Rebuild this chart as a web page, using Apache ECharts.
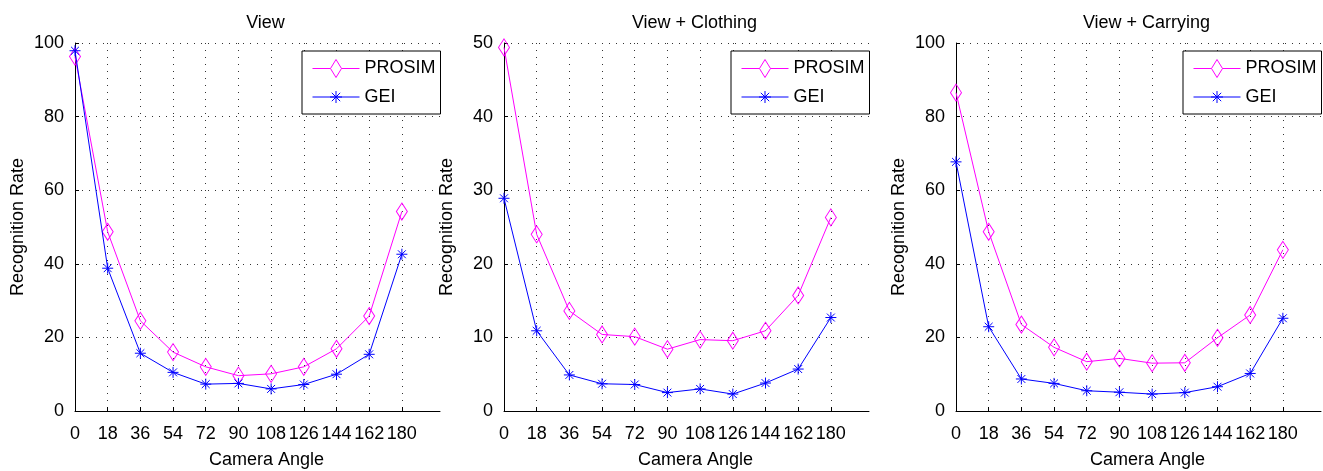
<!DOCTYPE html>
<html>
<head>
<meta charset="utf-8">
<script src="https://cdn.jsdelivr.net/npm/echarts@6/dist/echarts.min.js"></script>
<style>
html,body{margin:0;padding:0;background:#fff;}
#chart{width:1323px;height:471px;}
</style>
</head>
<body>
<div id="chart"></div>
<script>
// ---- data ----
const angles = [0, 18, 36, 54, 72, 90, 108, 126, 144, 162, 180];
const titles = ['View', 'View + Clothing', 'View + Carrying'];
const seriesNames = ['PROSIM', 'GEI'];

const viewProsim  = [96.3, 48.7, 24.5, 16.0, 12.0, 9.6, 10.1, 12.0, 16.9, 25.8, 54.2];
const viewGei     = [97.9, 38.8, 15.7, 10.5, 7.3, 7.5, 6.0, 7.2, 10.0, 15.4, 42.6];
const clothProsim = [49.4, 24.0, 13.6, 10.4, 10.1, 8.4, 9.7, 9.55, 10.9, 15.7, 26.3];
const clothGei    = [28.9, 10.9, 4.9, 3.7, 3.6, 2.5, 3.0, 2.3, 3.8, 5.7, 12.7];
const carryProsim = [86.5, 48.7, 23.5, 17.3, 13.4, 14.3, 13.0, 13.1, 19.9, 26.1, 43.8];
const carryGei    = [67.7, 22.9, 8.7, 7.5, 5.5, 5.1, 4.6, 5.0, 6.6, 10.2, 25.2];

const yTicks1 = [0, 20, 40, 60, 80, 100];
const yTicks2 = [0, 10, 20, 30, 40, 50];
const yTicks3 = [0, 20, 40, 60, 80, 100];

// ---- layout / style ----
const FONT = '"Liberation Sans", Arial, Helvetica, sans-serif';
const MAGENTA = '#ff00ff';
const BLUE = '#0000ff';
const gridLefts = [75, 504, 956];
const GW = 365, GH = 368, GT = 43;
const ASTER = 'path://M0,-6V6M-6,0H6M-4.3,-4.3L4.3,4.3M-4.3,4.3L4.3,-4.3';
const LEG_DIAMOND = 'path://M0,9H18M29,9H47M23.5,0L29,9L23.5,18L18,9Z';
const LEG_ASTER = 'path://M0,9H47M23.5,3V15M17.5,9H29.5M19.3,4.8L27.7,13.2M19.3,13.2L27.7,4.8';

const panels = [
  {p: viewProsim, g: viewGei, yt: yTicks1},
  {p: clothProsim, g: clothGei, yt: yTicks2},
  {p: carryProsim, g: carryGei, yt: yTicks3}
];

const grid = [], xAxis = [], yAxis = [], series = [], title = [], legend = [];
const dotted = {show: true, lineStyle: {color: '#333', width: 1, type: [1, 6]}};

panels.forEach((pn, i) => {
  const L = gridLefts[i];
  grid.push({left: L, top: GT, width: GW, height: GH, containLabel: false, outerBoundsMode: 'none'});
  title.push({
    text: titles[i], left: L + GW / 2 + 3, top: 9, textAlign: 'center',
    textStyle: {fontFamily: FONT, fontSize: 18, fontWeight: 'normal', color: '#000'}
  });
  xAxis.push({
    type: 'value', gridIndex: i, min: 0, max: 201,
    name: 'Camera Angle', nameLocation: 'middle', nameGap: 40,
    nameTextStyle: {fontFamily: FONT, fontSize: 18, color: '#000', padding: [0, 0, 0, 18]},
    axisLine: {show: true, onZero: false, lineStyle: {color: '#000', width: 1}},
    axisTick: {show: true, inside: true, length: 4, lineStyle: {color: '#000'}, customValues: angles},
    axisLabel: {show: true, margin: 14, fontFamily: FONT, fontSize: 18, color: '#000', customValues: angles, showMinLabel: true, showMaxLabel: true},
    splitLine: dotted
  });
  const yt = pn.yt;
  yAxis.push({
    type: 'value', gridIndex: i, min: yt[0], max: yt[yt.length - 1], interval: yt[1] - yt[0],
    name: 'Recognition Rate', nameLocation: 'middle', nameGap: 48,
    nameTextStyle: {fontFamily: FONT, fontSize: 18, color: '#000'},
    axisLine: {show: true, lineStyle: {color: '#000', width: 1}},
    axisTick: {show: true, inside: true, length: 4, lineStyle: {color: '#000'}},
    axisLabel: {show: true, margin: 11, fontFamily: FONT, fontSize: 18, color: '#000'},
    splitLine: dotted
  });
  series.push({
    name: seriesNames[0], type: 'line', xAxisIndex: i, yAxisIndex: i,
    data: angles.map((a, k) => [a, pn.p[k]]),
    symbol: 'diamond', symbolSize: [11, 17], showSymbol: true,
    lineStyle: {color: MAGENTA, width: 1},
    itemStyle: {color: 'rgba(255,255,255,0)', borderColor: MAGENTA, borderWidth: 1},
    emphasis: {disabled: true}, z: 2
  });
  series.push({
    name: seriesNames[1], type: 'line', xAxisIndex: i, yAxisIndex: i,
    data: angles.map((a, k) => [a, pn.g[k]]),
    symbol: ASTER, symbolSize: 11, showSymbol: true,
    lineStyle: {color: BLUE, width: 1},
    itemStyle: {color: 'rgba(255,255,255,0)', borderColor: BLUE, borderWidth: 1},
    emphasis: {disabled: true}, z: 3
  });
  legend.push({
    left: L + GW - 138, top: 51, orient: 'vertical',
    backgroundColor: '#fff', borderColor: '#000', borderWidth: 1,
    padding: [8, 5, 8, 10], itemGap: 10, itemWidth: 47, itemHeight: 18,
    selectedMode: false,
    itemStyle: {borderWidth: 1},
    textStyle: {fontFamily: FONT, fontSize: 18, color: '#000'},
    data: [{name: seriesNames[0], icon: LEG_DIAMOND, itemStyle: {color: 'rgba(255,255,255,0)', borderColor: MAGENTA, borderWidth: 1}},
           {name: seriesNames[1], icon: LEG_ASTER, itemStyle: {color: 'rgba(255,255,255,0)', borderColor: BLUE, borderWidth: 1}}]
  });
});

const chart = echarts.init(document.getElementById('chart'), null, {renderer: 'canvas'});
chart.setOption({
  animation: false,
  backgroundColor: '#fff',
  title, legend, grid, xAxis, yAxis, series
});
</script>
</body>
</html>
